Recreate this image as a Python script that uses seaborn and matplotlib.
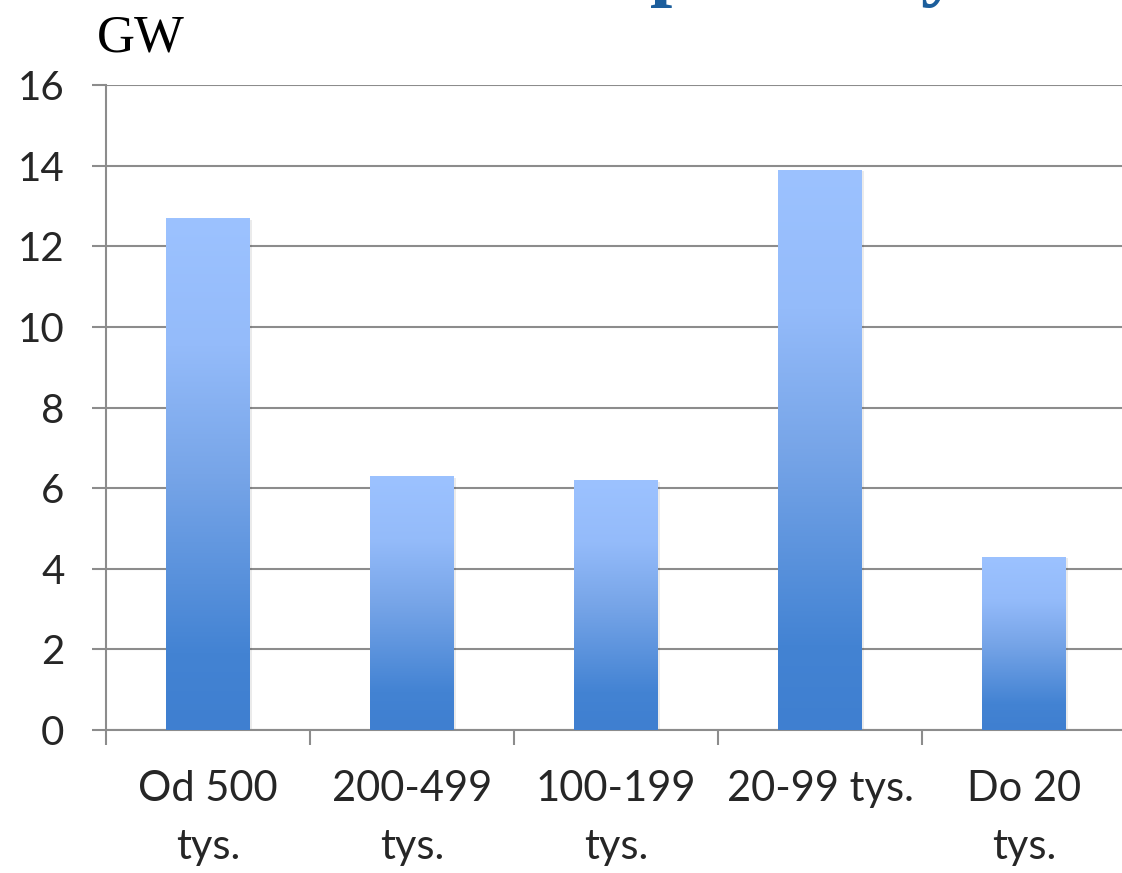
import matplotlib
matplotlib.use("Agg")
import matplotlib.pyplot as plt
import matplotlib.colors as mcolors
import seaborn as sns
import numpy as np
import pandas as pd

# Data
categories = ["Od 500\ntys.", "200-499\ntys.", "100-199\ntys.", "20-99 tys.", "Do 20\ntys."]
values = [12.7, 6.3, 6.2, 13.9, 4.3]
y_ticks = [0, 2, 4, 6, 8, 10, 12, 14, 16]

sns.set_style("white")
plt.rcParams["font.family"] = ["Lato", "DejaVu Sans"]

GRID = "#8c8c8c"

fig = plt.figure(figsize=(11.22, 8.73), dpi=100)
# the plot area runs slightly past the right edge of the picture (cropped slide)
ax = fig.add_axes([0.0945, 0.1638, 0.9091, 0.7388])

df = pd.DataFrame({"cat": categories, "val": values})
sns.barplot(data=df, x="cat", y="val", ax=ax, width=0.41, color="#3f7fd0",
            linewidth=0, zorder=3)

# vertical gradient inside each bar (dark at bottom, light at top)
cmap = mcolors.LinearSegmentedColormap.from_list(
    "bar", [(0.0, "#3f7fd0"), (0.15, "#4383d3"), (0.5, "#77a5e8"),
            (0.75, "#94bbfa"), (1.0, "#9cc2ff")])
grad = np.linspace(0, 1, 256).reshape(-1, 1)
for p in ax.patches:
    x0, w, h = p.get_x(), p.get_width(), p.get_height()
    # soft shadow
    ax.add_patch(plt.Rectangle((x0 + 0.01, -0.04), w, h, color="#000000",
                               alpha=0.08, lw=0, zorder=2.5))
    p.set_facecolor("none")
    im = ax.imshow(grad, cmap=cmap, origin="lower", aspect="auto",
                   extent=(x0, x0 + w, 0, h), zorder=3)
    im.set_clip_path(p)

ax.set_xlim(-0.5, len(categories) - 0.5)
ax.set_ylim(0, 16)
ax.set_yticks(y_ticks)
ax.yaxis.grid(True, color=GRID, linewidth=1.5, zorder=1)
ax.set_axisbelow(True)

for s in ["top", "right"]:
    ax.spines[s].set_visible(False)
for s in ["left", "bottom"]:
    ax.spines[s].set_color(GRID)
    ax.spines[s].set_linewidth(1.5)

ax.set_xlabel("")
ax.set_ylabel("")
ax.tick_params(axis="y", direction="out", length=10, width=1.5, color=GRID,
               labelsize=29, pad=20, left=True)
ax.set_xticks(range(len(categories)))
ax.set_xticklabels(categories, linespacing=1.62)
ax.set_xticks([i - 0.5 for i in range(len(categories) + 1)], minor=True)
ax.tick_params(axis="x", which="major", length=0, labelsize=30, pad=29)
ax.tick_params(axis="x", which="minor", direction="out", length=11, width=1.5,
               color=GRID, bottom=True)
for lab in ax.get_xticklabels():
    lab.set_verticalalignment("top")

# unit label
fig.text(97 / 1122, 1 - 52 / 873, "GW", fontsize=38, family="Liberation Serif",
         ha="left", va="baseline", color="black")

# cut-off slide title descenders at top edge
fig.text(672 / 1122, 1 + 9 / 873, "p", fontsize=58, family="Liberation Serif",
         fontweight="bold", color="#1c5e9c", ha="center", va="baseline")
fig.text(940 / 1122, 1 + 9 / 873, "y", fontsize=58, family="Liberation Serif",
         fontweight="bold", color="#1c5e9c", ha="center", va="baseline")

fig.savefig("out.png", dpi=100)
